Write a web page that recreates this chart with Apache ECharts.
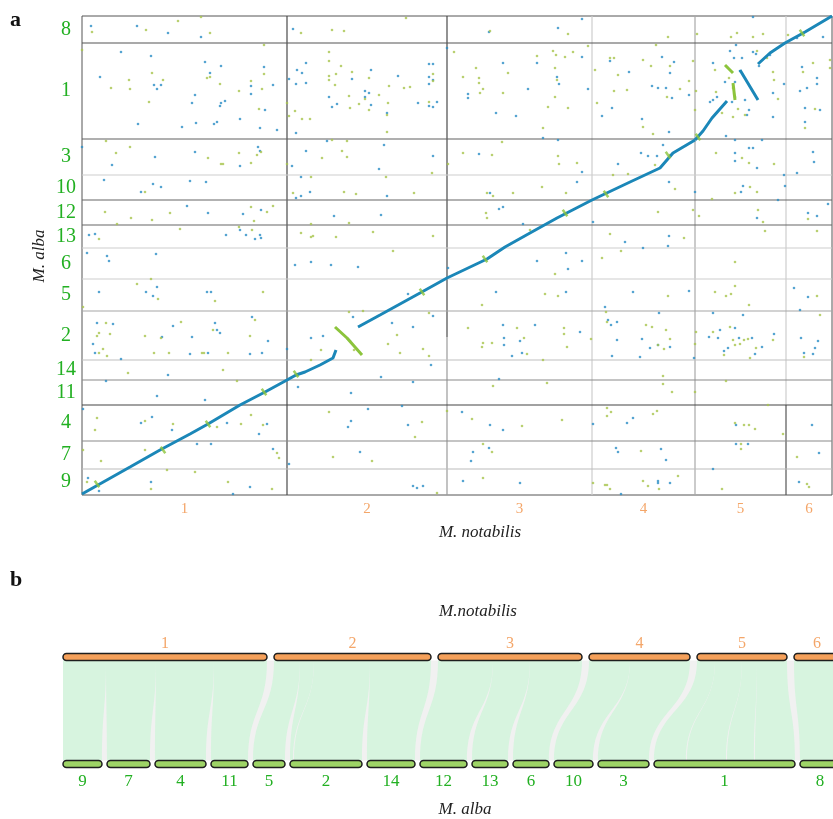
<!DOCTYPE html>
<html>
<head>
<meta charset="utf-8">
<title>M. notabilis vs M. alba</title>
<script src="https://cdn.jsdelivr.net/npm/echarts@6/dist/echarts.min.js"></script>
<style>
html,body{margin:0;padding:0;background:#fff;}
#main{width:833px;height:819px;}
</style>
</head>
<body>
<div id="main"></div>
<script>
// ---- panel a : dot plot ----
// M. notabilis chromosomes along x (plot units)
var notabilisChr = ['1','2','3','4','5','6'];
var notabilisLen = [205,160,145,103,91,46];
// M. alba chromosomes along y, bottom to top
var albaChr = ['9','7','4','11','14','2','5','6','13','12','10','3','1','8'];
var albaLen = [26,28,36,25,20,49,32,31,23,25,25,36,96,27];

// scattered hits [notabilis pos, alba pos]
var blueDots = [
 [9,469],[55,469],[86,462],[119,458],[211,466],[407,463],[476,467],[500,476],[671,478],[741,458],[715,457],
 [39,443],[69,439],[18,418],[72,410],[75,406],[79,410],[123,433],[128,422],[139,429],[113,400],[110,392],[139,392],[138,389],[143,394],[169,409],[169,401],[182,428],[191,410],[183,385],[158,376],[178,367],[195,365],[56,371],[100,368],[114,372],[132,371],[135,373],[207,416],[215,425],[220,422],[224,432],[214,411],[224,412],[270,416],[289,425],[247,398],[250,388],[255,391],[283,404],[283,398],[287,402],[289,390],[316,419],[336,392],[214,362],[305,382],[347,431],[351,431],[347,418],[351,415],[347,411],[347,389],[351,388],[355,393],[365,447],[386,401],[386,397],[421,432],[414,382],[434,379],[446,406],[455,432],[477,411],[475,418],[500,438],[506,406],[520,379],[530,387],[528,434],[547,423],[560,376],[570,409],[576,407],[580,438],[584,407],[588,422],[590,397],[592,433],[587,363],[607,400],[631,432],[648,444],[654,450],[652,437],[660,437],[671,443],[674,441],[677,429],[688,440],[628,393],[631,395],[635,398],[643,413],[653,413],[650,393],[658,424],[663,395],[667,385],[665,380],[691,378],[691,402],[720,428],[725,407],[718,404],[735,417],[735,411],[723,387],[738,385],[723,373],[702,411],
 [0,348],[30,330],[73,338],[113,343],[158,329],[176,348],[178,344],[210,329],[224,344],[245,354],[302,350],[297,326],[351,339],[397,341],[461,357],[476,355],[500,323],[536,331],[559,342],[566,339],[575,339],[581,350],[644,359],[653,355],[653,342],[653,334],[667,347],[671,347],[675,327],[680,355],[731,343],[732,333],
 [22,315],[71,311],[79,308],[108,314],[124,313],[59,303],[219,318],[228,303],[214,297],[219,299],[305,299],[408,302],[495,313],[587,313],[613,303],[661,309],[659,303],[702,320],[715,322],[703,309],
 [105,289],[126,282],[161,281],[179,285],[252,279],[299,280],[417,286],[421,288],[511,273],[696,295],[726,282],[735,279],[746,291],[675,277],
 [7,260],[13,261],[144,260],[158,265],[164,260],[173,256],[178,260],[179,257],[441,271],[543,253],[561,247],[586,249],[587,259],
 [5,242],[25,239],[27,234],[74,241],[213,230],[229,233],[249,230],[276,228],[455,234],[484,242],[486,226],[500,234],[366,227],
 [17,203],[64,203],[71,199],[75,208],[125,203],[129,203],[326,201],[414,203],[484,203],[551,203],[607,204],[712,207],[726,198],[718,185],
 [15,172],[31,171],[80,158],[91,169],[110,158],[133,172],[135,165],[138,162],[170,178],[186,154],[11,151],[13,142],[108,141],[126,142],[180,142],[168,141],[39,136],[229,157],[241,159],[271,178],[205,146],[266,156],[268,154],[310,172],[331,168],[351,179],[421,170],[422,157],[422,150],[438,154],[430,139],[440,142],[453,170],[498,163],[523,188],[526,175],[529,170],[535,173],[535,155],[530,139],[560,156],[558,138],[568,147],[577,182],[576,150],[588,148],[349,130],[612,137],[631,182],[627,158],[636,157],[638,165],[642,144],[646,147],[653,167],[657,157],[661,180],[670,157],[673,141],[680,148],[692,161],[719,157],[736,154],[733,147],[722,142],[731,141],
 [86,120],[299,118],[417,116],
 [24,114],[75,99],[123,95],[216,108],[269,102],[331,113],
 [1,86],[59,72],[70,78],[90,65],[145,72],[177,61],[185,71],[266,68],[269,74],[286,86],[326,70],[320,89],[380,83],[408,70],[421,65],[511,71],[545,72],[551,77],[654,70],[730,70],
 [115,51],[129,51],[191,46],[278,43],[207,31],[391,43],[389,34],[407,47],[534,47],[536,43],[579,46],[584,35],[654,51],[666,51],[737,42],[631,26],
 [6,17],[17,4],[69,13],[151,1],[168,8],[331,9],[335,7],[381,14],[438,12],[576,14],[576,12],[588,12],[717,13],[539,1],[341,9]
];
var greenDots = [
 [10,463],[64,465],[96,474],[119,478],[128,462],[219,462],[250,465],[262,464],[324,477],[408,464],[486,461],[586,458],[615,461],[649,458],[655,462],[671,458],[681,461],[706,460],
 [70,422],[47,415],[48,406],[29,407],[81,415],[67,393],[125,417],[128,418],[138,411],[157,404],[169,414],[180,406],[182,421],[182,450],[177,386],[205,392],[207,379],[213,384],[220,376],[228,376],[247,443],[247,434],[247,419],[247,415],[254,421],[259,429],[253,410],[270,423],[267,399],[268,387],[277,391],[283,396],[287,417],[287,385],[297,400],[305,380],[307,409],[306,392],[322,407],[328,408],[305,363],[0,445],[351,421],[351,414],[347,393],[372,443],[381,418],[394,427],[397,417],[397,412],[401,406],[398,402],[421,402],[426,422],[455,439],[466,388],[471,444],[474,440],[473,427],[475,415],[483,438],[486,387],[491,443],[473,398],[461,367],[506,449],[513,425],[515,392],[528,437],[532,437],[532,404],[536,420],[545,405],[561,435],[561,368],[569,429],[571,361],[574,450],[585,398],[588,429],[598,406],[607,414],[611,434],[614,404],[613,385],[633,425],[634,403],[640,382],[645,428],[647,417],[651,407],[653,398],[651,378],[656,386],[663,380],[675,444],[685,437],[691,423],[692,415],[696,396],[721,423],[731,432],[733,386],[723,367],[748,435],[748,427],
 [24,354],[34,342],[48,348],[126,337],[139,331],[141,331],[157,342],[169,332],[175,340],[179,343],[205,331],[240,337],[260,344],[265,338],[250,355],[265,354],[381,342],[410,340],[420,353],[476,339],[477,331],[495,332],[573,330],[588,340],[634,342],[660,337],[667,332],[692,331],[366,331],[350,322],
 [63,303],[211,302],[229,318],[262,303],[274,301],[304,318],[332,302],[405,302],[411,299],[431,302],[460,308],[484,302],[531,320],[546,321],[593,306],[653,302],[668,308],[675,303],[630,296],
 [23,283],[49,277],[70,275],[88,282],[169,288],[172,274],[185,283],[191,289],[35,271],[229,271],[267,272],[404,282],[405,277],[576,283],[611,285],[617,279],[676,285],[681,273],[726,276],
 [17,256],[98,266],[157,268],[170,265],[219,262],[229,258],[231,259],[254,258],[291,263],[311,244],[351,259],[448,265],[528,261],[539,244],[602,257],[683,264],[735,264],
 [520,237],[473,221],[653,233],
 [55,211],[69,216],[76,196],[133,194],[181,203],[1,188],[281,184],[267,183],[400,190],[463,201],[476,199],[586,199],[633,203],[644,199],[649,201],[653,209],[667,190],[735,199],
 [15,159],[17,162],[24,172],[28,161],[21,146],[17,142],[25,139],[63,159],[79,157],[72,142],[87,142],[99,173],[131,165],[120,142],[122,142],[146,142],[168,159],[173,175],[239,145],[272,145],[306,151],[315,160],[318,142],[347,182],[386,167],[401,152],[400,148],[410,152],[435,167],[442,157],[445,141],[482,167],[482,161],[485,148],[509,156],[524,183],[525,173],[564,170],[570,168],[576,150],[582,146],[584,165],[588,156],[614,163],[613,151],[631,163],[642,140],[648,168],[651,155],[653,150],[658,151],[662,155],[666,156],[668,137],[674,147],[691,155],[722,138],[738,180],[461,135],[341,146],[347,139],
 [46,122],[141,125],[229,135],[581,119],[465,112],[411,109],
 [155,114],[581,111],[590,103],[613,103],[644,114],[686,90],
 [15,77],[13,65],[63,74],[91,71],[135,68],[159,71],[169,80],[181,70],[247,83],[333,58],[365,84],[390,76],[440,69],[480,75],[525,87],[529,83],[525,79],[571,81],[575,84],[653,72],[662,70],[667,70],[673,66],[701,61],[340,73],
 [1,45],[19,34],[63,45],[195,42],[197,37],[251,38],[290,34],[401,51],[410,43],[559,44],[659,51],[659,46],[715,38],
 [5,13],[85,25],[113,23],[69,6],[146,13],[190,6],[401,17],[511,12],[523,10],[525,10],[528,6],[561,14],[566,9],[577,6],[596,19],[640,6],[725,11],[727,8],[355,2]
];
// collinear blocks (the diagonal)
var diagBlue = [
 [[0,1],[16,10],[48,28],[78,45],[108,61],[126,71],[158,90],[183,103],[205,115],[214,120],[223,123],[238,130],[251,137],[254,145]],
 [[276,168],[298,180],[338,202],[365,217],[405,236],[423,248],[448,262],[475,277],[510,295],[548,313],[578,327],[591,342],[613,355]],
 [[613,355],[621,364],[630,377],[645,394]],
 [[658,425],[670,405],[676,395]],
 [[676,431],[688,442],[703,452],[723,463],[750,479]]
];
var diagGreen = [
 [[253,168],[265,157],[280,140]],
 [[643,430],[651,422]],
 [[651,412],[653,395]]
];
var diagMarks = [[15,11],[81,45],[126,71],[182,103],[214,121],[340,203],[403,236],[483,282],[524,301],[586,340],[616,358],[720,462]];

// ---- panel b : synteny ----
var topChrB = ['1','2','3','4','5','6'];
var topLenB = [204,157,144,101,90,46];
var botChrB = ['9','7','4','11','5','2','14','12','13','6','10','3','1','8'];
var botLenB = [39,43,51,37,32,72,48,47,36,36,39,51,141,40];
// [top chr, top from, top to, bottom chr, bottom from, bottom to]
var blocks = [
 ['1',0,43,'9',0,39],
 ['1',43,93,'7',0,43],
 ['1',93,151,'4',0,51],
 ['1',151,204,'11',0,37],
 ['2',0,26,'5',0,32],
 ['2',26,40,'2',0,3],
 ['2',40,96,'2',4,72],
 ['2',96,157,'14',0,48],
 ['3',0,55,'12',0,47],
 ['3',55,92,'13',0,36],
 ['3',92,144,'6',0,36],
 ['4',0,41,'10',0,39],
 ['4',41,101,'3',0,51],
 ['5',0,18,'1',0,32],
 ['5',18,45,'1',33,72],
 ['5',45,60,'1',73,100],
 ['5',60,90,'1',101,141],
 ['6',0,46,'8',0,40]
];

// ---- styles ----
var serif = '"Liberation Serif", "DejaVu Serif", serif';
var orangeText = '#f4a669';
var greenText = '#22b022';
var blueDot = '#2b8dc6';
var greenDot = '#a7c44e';
var diagBlueColor = '#1b87b8';
var diagGreenColor = '#8cc43c';
var xLineShade = [
 [[0,479,'#4a4a4a']],
 [[158,479,'#4a4a4a'],[0,158,'#9a9a9a']],
 [[0,479,'#cdcdcd']],
 [[0,479,'#a8a8a8']],
 [[90,479,'#cdcdcd'],[0,90,'#555555']]
];
var yLineShade = ['#bbbbbb','#8a8a8a','#444444','#8a8a8a','#c0c0c0','#a5a5a5','#cdcdcd','#cdcdcd','#666666','#666666','#cdcdcd','#606060','#555555'];
var barH = 7;

function starts(lens, gap) {
  var s = [], acc = 0;
  for (var i = 0; i < lens.length; i++) { s.push(acc); acc += lens[i] + gap; }
  return s;
}
function total(lens) { return lens.reduce(function (a, b) { return a + b; }, 0); }

var xStart = starts(notabilisLen, 0), yStart = starts(albaLen, 0);
var xTotal = total(notabilisLen), yTotal = total(albaLen);
var xLabelAt = {}, yLabelAt = {};
var xMid = notabilisLen.map(function (l, i) { var m = xStart[i] + l / 2; xLabelAt[m] = notabilisChr[i]; return m; });
var yMid = albaLen.map(function (l, i) { var m = yStart[i] + l / 2; yLabelAt[m] = albaChr[i]; return m; });

var boundaryData = [], boundaryColor = [];
for (var i = 1; i < notabilisLen.length; i++) {
  xLineShade[i - 1].forEach(function (seg) {
    boundaryData.push([xStart[i], seg[0], xStart[i], seg[1]]);
    boundaryColor.push(seg[2]);
  });
}
for (var j = 1; j < albaLen.length; j++) {
  boundaryData.push([0, yStart[j], xTotal, yStart[j]]);
  boundaryColor.push(yLineShade[j - 1]);
}

var topStartB = starts(topLenB, 7), botStartB = starts(botLenB, 5);
var bars = [], barNames = [];
topChrB.forEach(function (c, k) { bars.push([topStartB[k], topStartB[k] + topLenB[k], 1]); barNames.push(c); });
botChrB.forEach(function (c, k) { bars.push([botStartB[k], botStartB[k] + botLenB[k], 0]); barNames.push(c); });
var ribbons = blocks.map(function (b) {
  var ti = topChrB.indexOf(b[0]), bi = botChrB.indexOf(b[3]);
  return [topStartB[ti] + b[1], topStartB[ti] + b[2], botStartB[bi] + b[4], botStartB[bi] + b[5]];
});
var spanB = [[0, Math.max(topStartB[5] + topLenB[5], botStartB[13] + botLenB[13])]];

function renderBoundary(params, api) {
  var p1 = api.coord([api.value(0), api.value(1)]);
  var p2 = api.coord([api.value(2), api.value(3)]);
  return { type: 'line', shape: { x1: p1[0], y1: p1[1], x2: p2[0], y2: p2[1] },
    style: { stroke: boundaryColor[params.dataIndex], lineWidth: 1.2 } };
}
function renderSpan(params, api) {
  var a = api.coord([api.value(0), 1]), b = api.coord([api.value(1), 0]);
  return { type: 'rect', shape: { x: a[0], y: a[1] + barH / 2, width: b[0] - a[0], height: b[1] - a[1] - barH },
    style: { fill: '#f1f1f1' } };
}
function renderRibbon(params, api) {
  var t0 = api.coord([api.value(0), 1]), t1 = api.coord([api.value(1), 1]);
  var b0 = api.coord([api.value(2), 0]), b1 = api.coord([api.value(3), 0]);
  var yT = t0[1] + barH / 2, yB = b0[1] - barH / 2, yM = (yT + yB) / 2;
  var d = 'M' + t0[0] + ' ' + yT + ' C' + t0[0] + ' ' + yM + ' ' + b0[0] + ' ' + yM + ' ' + b0[0] + ' ' + yB +
    ' L' + b1[0] + ' ' + yB + ' C' + b1[0] + ' ' + yM + ' ' + t1[0] + ' ' + yM + ' ' + t1[0] + ' ' + yT + ' Z';
  return { type: 'path', shape: { pathData: d }, style: { fill: '#d7f4df' } };
}
function renderBar(params, api) {
  var lvl = api.value(2);
  var p0 = api.coord([api.value(0), lvl]), p1 = api.coord([api.value(1), lvl]);
  var top = lvl === 1;
  return { type: 'group', children: [
    { type: 'rect', shape: { x: p0[0], y: p0[1] - barH / 2, width: p1[0] - p0[0], height: barH, r: barH / 2 },
      style: { fill: top ? '#f5a05a' : '#9ed466', stroke: '#1e1e1e', lineWidth: 1.5 } },
    { type: 'text', style: { text: barNames[params.dataIndex], x: (p0[0] + p1[0]) / 2, y: top ? p0[1] - 13 : p0[1] + 18,
      align: 'center', verticalAlign: 'middle', fill: top ? orangeText : greenText,
      fontSize: top ? 16 : 17, fontFamily: serif } }
  ] };
}

var series = [
  { type: 'custom', name: 'boundaries', xAxisIndex: 0, yAxisIndex: 0, renderItem: renderBoundary,
    data: boundaryData, encode: { x: [0, 2], y: [1, 3] }, silent: true, z: 1 },
  { type: 'scatter', name: 'hits', xAxisIndex: 0, yAxisIndex: 0, data: blueDots, symbolSize: 2.6,
    itemStyle: { color: blueDot }, silent: true, z: 2 },
  { type: 'scatter', name: 'hits2', xAxisIndex: 0, yAxisIndex: 0, data: greenDots, symbolSize: 2.6,
    itemStyle: { color: greenDot }, silent: true, z: 2 }
];
diagBlue.forEach(function (p) {
  series.push({ type: 'line', xAxisIndex: 0, yAxisIndex: 0, data: p, showSymbol: false, silent: true,
    lineStyle: { color: diagBlueColor, width: 3 }, z: 3 });
});
diagGreen.forEach(function (p) {
  series.push({ type: 'line', xAxisIndex: 0, yAxisIndex: 0, data: p, showSymbol: false, silent: true,
    lineStyle: { color: diagGreenColor, width: 3 }, z: 4 });
});
series.push({ type: 'scatter', xAxisIndex: 0, yAxisIndex: 0, data: diagMarks, symbol: 'rect',
  symbolSize: [2.5, 8], symbolRotate: 35, itemStyle: { color: diagGreenColor }, silent: true, z: 5 });
series.push({ type: 'custom', xAxisIndex: 1, yAxisIndex: 1, renderItem: renderSpan, data: spanB, silent: true, z: 1 });
series.push({ type: 'custom', xAxisIndex: 1, yAxisIndex: 1, renderItem: renderRibbon, data: ribbons, silent: true, z: 2 });
series.push({ type: 'custom', xAxisIndex: 1, yAxisIndex: 1, renderItem: renderBar, data: bars, silent: true, z: 3 });

var chart = echarts.init(document.getElementById('main'));
chart.setOption({
  animation: false,
  backgroundColor: '#ffffff',
  grid: [
    { left: 82, top: 16, width: 750, height: 479, show: true, borderColor: '#555555', borderWidth: 1, backgroundColor: 'transparent' },
    { left: 63, right: 0, top: 657, height: 107 }
  ],
  xAxis: [
    { type: 'value', gridIndex: 0, min: 0, max: xTotal, splitLine: { show: false }, axisLine: { show: false }, axisTick: { show: false },
      axisLabel: { customValues: xMid, formatter: function (v) { return xLabelAt[v] || ''; }, color: orangeText,
        fontFamily: serif, fontSize: 15, margin: 7 } },
    { type: 'value', gridIndex: 1, min: 0, max: 770, show: false }
  ],
  yAxis: [
    { type: 'value', gridIndex: 0, min: 0, max: yTotal, splitLine: { show: false }, axisLine: { show: false }, axisTick: { show: false },
      axisLabel: { customValues: yMid, formatter: function (v) { return yLabelAt[v] || ''; }, color: greenText,
        fontFamily: serif, fontSize: 20, margin: 16, align: 'center' } },
    { type: 'value', gridIndex: 1, min: 0, max: 1, show: false }
  ],
  graphic: [
    { type: 'text', x: 10, y: 9, style: { text: 'a', font: 'bold 22px ' + serif, fill: '#111' } },
    { type: 'text', x: 10, y: 569, style: { text: 'b', font: 'bold 22px ' + serif, fill: '#111' } },
    { type: 'text', x: 480, y: 533, style: { text: 'M. notabilis', font: 'italic 17px ' + serif, fill: '#222', align: 'center', verticalAlign: 'middle' } },
    { type: 'text', x: 40, y: 256, rotation: Math.PI / 2, style: { text: 'M. alba', font: 'italic 17px ' + serif, fill: '#222', align: 'center', verticalAlign: 'middle' } },
    { type: 'text', x: 478, y: 612, style: { text: 'M.notabilis', font: 'italic 17px ' + serif, fill: '#222', align: 'center', verticalAlign: 'middle' } },
    { type: 'text', x: 465, y: 810, style: { text: 'M. alba', font: 'italic 17px ' + serif, fill: '#222', align: 'center', verticalAlign: 'middle' } }
  ],
  series: series
});
</script>
</body>
</html>
